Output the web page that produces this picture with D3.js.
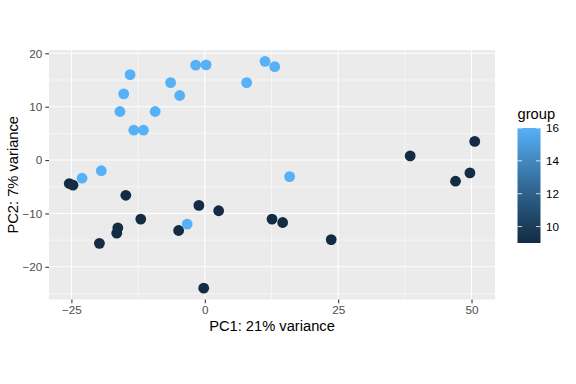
<!DOCTYPE html>
<html><head><meta charset="utf-8">
<script src="https://cdn.jsdelivr.net/npm/d3@7"></script>
<style>body{margin:0;background:#fff}svg{display:block}text{font-family:"Liberation Sans",Arial,sans-serif}</style>
</head><body>
<svg id="c" width="576" height="384"></svg>
<script>
const pc1 = [-25.4,-24.7,-14.8,-12.0,-16.3,-16.5,-19.75,-4.9,-1.1,2.6,12.6,14.6,23.7,-0.2,38.5,50.6,49.7,47.0,
             -23.0,-19.4,-15.9,-15.2,-14.0,-13.3,-11.5,-9.3,-6.4,-4.7,-1.7,0.25,7.85,11.3,13.1,15.9,-3.3];
const pc2 = [-4.4,-4.7,-6.6,-11.06,-12.7,-13.7,-15.6,-13.2,-8.5,-9.5,-11.06,-11.7,-14.9,-24.0,0.78,3.5,-2.4,-3.96,
             -3.4,-2.0,9.1,12.4,16.0,5.6,5.6,9.1,14.5,12.1,17.8,17.85,14.5,18.5,17.5,-3.1,-12.0];
const group = [9,9,9,9,9,9,9,9,9,9,9,9,9,9,9,9,9,9,
               16,16,16,16,16,16,16,16,16,16,16,16,16,16,16,16,16];
const xTicks = [-25,0,25,50];
const yTicks = [-20,-10,0,10,20];
const legendTicks = [10,12,14,16];

const svg = d3.select("#c");
const P = {l:49, r:495, t:50, b:299.5};
const xr = d3.extent(pc1), yr = d3.extent(pc2);
const ex = (xr[1]-xr[0])*0.05, ey = (yr[1]-yr[0])*0.05;
const x = d3.scaleLinear().domain([xr[0]-ex, xr[1]+ex]).range([P.l, P.r]);
const y = d3.scaleLinear().domain([yr[0]-ey, yr[1]+ey]).range([P.b, P.t]);
const gr = d3.extent(group);
const col = d3.scaleLinear().domain(gr).range(["#132B43","#56B1F7"]).interpolate(d3.interpolateLab);

svg.append("rect").attr("x",P.l).attr("y",P.t).attr("width",P.r-P.l).attr("height",P.b-P.t).attr("fill","#EBEBEB");
const xMinor = [-37.5,-12.5,12.5,37.5,62.5].filter(v=>x(v)>P.l&&x(v)<P.r);
const yMinor = [-25,-15,-5,5,15,25].filter(v=>y(v)<P.b&&y(v)>P.t);
const g = svg.append("g");
xMinor.forEach(v=>g.append("line").attr("x1",x(v)).attr("x2",x(v)).attr("y1",P.t).attr("y2",P.b).attr("stroke","#fff").attr("stroke-width",0.53));
yMinor.forEach(v=>g.append("line").attr("y1",y(v)).attr("y2",y(v)).attr("x1",P.l).attr("x2",P.r).attr("stroke","#fff").attr("stroke-width",0.53));
xTicks.forEach(v=>g.append("line").attr("x1",x(v)).attr("x2",x(v)).attr("y1",P.t).attr("y2",P.b).attr("stroke","#fff").attr("stroke-width",1.07));
yTicks.forEach(v=>g.append("line").attr("y1",y(v)).attr("y2",y(v)).attr("x1",P.l).attr("x2",P.r).attr("stroke","#fff").attr("stroke-width",1.07));

// axes
const xa = svg.append("g").attr("transform",`translate(0,${P.b})`)
  .call(d3.axisBottom(x).tickValues(xTicks).tickSize(3.67).tickPadding(3));
const ya = svg.append("g").attr("transform",`translate(${P.l},0)`)
  .call(d3.axisLeft(y).tickValues(yTicks).tickSize(3.67).tickPadding(3));
[xa,ya].forEach(a=>{
  a.select(".domain").remove();
  a.selectAll(".tick line").attr("stroke","#333333").attr("stroke-width",1.07);
  a.selectAll(".tick text").attr("fill","#4D4D4D").attr("font-size","11.7px").style("font-family","Liberation Sans, Arial, sans-serif");
});

// points
svg.append("g").selectAll("circle").data(pc1.map((d,i)=>i)).join("circle")
  .attr("cx",i=>x(pc1[i])).attr("cy",i=>y(pc2[i])).attr("r",5.4).attr("fill",i=>col(group[i]));

// axis titles
svg.append("text").attr("x",(P.l+P.r)/2).attr("y",331).attr("text-anchor","middle").attr("font-size","14.7px").attr("fill","#000").text("PC1: 21% variance");
svg.append("text").attr("transform",`translate(18,${(P.t+P.b)/2}) rotate(-90)`).attr("text-anchor","middle").attr("font-size","14.7px").attr("fill","#000").text("PC2: 7% variance");

// legend
const L = {x:517.5, top:128, h:115, w:23};
const lg = svg.append("g");
lg.append("text").attr("x",L.x).attr("y",119).attr("font-size","14.7px").attr("fill","#000").text("group");
const defs = svg.append("defs");
const grad = defs.append("linearGradient").attr("id","gb").attr("x1",0).attr("y1",1).attr("x2",0).attr("y2",0);
d3.range(0,1.0001,0.1).forEach(t=>grad.append("stop").attr("offset",t).attr("stop-color",col(gr[0]+t*(gr[1]-gr[0]))));
lg.append("rect").attr("x",L.x).attr("y",L.top).attr("width",L.w).attr("height",L.h).attr("fill","url(#gb)");
const ly = d3.scaleLinear().domain(gr).range([L.top+L.h, L.top]);
legendTicks.forEach(v=>{
  lg.append("line").attr("x1",L.x).attr("x2",L.x+4.6).attr("y1",ly(v)).attr("y2",ly(v)).attr("stroke","#fff").attr("stroke-width",0.8);
  lg.append("line").attr("x1",L.x+L.w-4.6).attr("x2",L.x+L.w).attr("y1",ly(v)).attr("y2",ly(v)).attr("stroke","#fff").attr("stroke-width",0.8);
  lg.append("text").attr("x",L.x+L.w+5.5).attr("y",ly(v)).attr("dy","0.35em").attr("font-size","11.7px").attr("fill","#000").text(v);
});
</script>
</body></html>
